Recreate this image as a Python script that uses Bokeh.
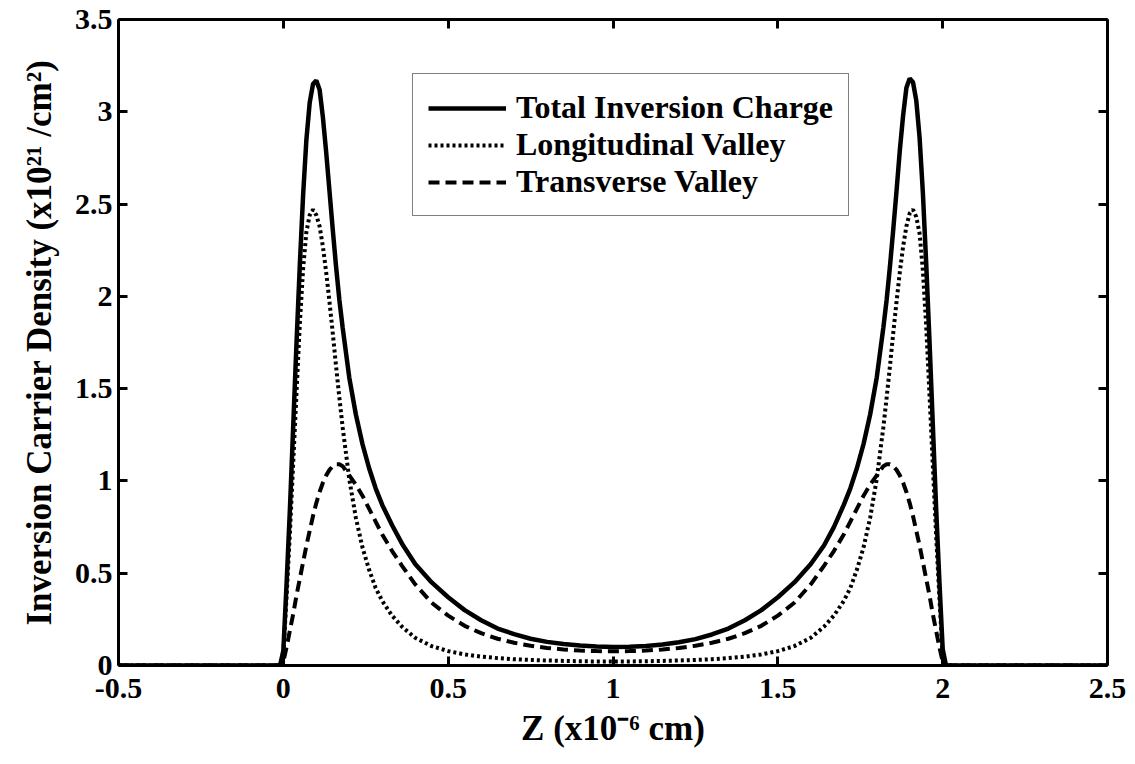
from bokeh.plotting import figure
from bokeh.models import (LinearAxis, Range1d, FixedTicker, Legend, LegendItem,
                          CustomJSTickFormatter, ColumnDataSource)
from bokeh.embed import file_html
from bokeh.resources import INLINE

# Position along the channel, Z (x1e-6 cm)
z = [-0.5, -0.01, 0.0, 0.01, 0.02, 0.03, 0.04, 0.05, 0.06, 0.07, 0.08, 0.09,
     0.10, 0.11, 0.12, 0.13, 0.14, 0.15, 0.16, 0.17, 0.18, 0.20, 0.22, 0.24,
     0.26, 0.28, 0.30, 0.33, 0.36, 0.40, 0.45, 0.50, 0.55, 0.60, 0.65, 0.70,
     0.75, 0.80, 0.85, 0.90, 0.95, 1.00,
     1.05, 1.10, 1.15, 1.20, 1.25, 1.30, 1.35, 1.40, 1.45, 1.50, 1.55, 1.60,
     1.64, 1.67, 1.70, 1.72, 1.74, 1.76, 1.78, 1.80, 1.82, 1.83, 1.84, 1.85,
     1.86, 1.87, 1.88, 1.89, 1.90, 1.91, 1.92, 1.93, 1.94, 1.95, 1.96, 1.97,
     1.98, 1.99, 2.00, 2.01, 2.5]

# Total inversion charge (x1e21 /cm^2)
total = [0.0, 0.0, 0.08, 0.45, 0.85, 1.30, 1.75, 2.17, 2.55, 2.85, 3.05, 3.15,
         3.17, 3.12, 2.97, 2.78, 2.57, 2.36, 2.16, 1.98, 1.83, 1.56, 1.36, 1.20,
         1.07, 0.96, 0.87, 0.76, 0.66, 0.55, 0.45, 0.37, 0.30, 0.245, 0.20, 0.17,
         0.145, 0.128, 0.116, 0.108, 0.103, 0.10,
         0.102, 0.106, 0.114, 0.126, 0.143, 0.168, 0.20, 0.245, 0.30, 0.37, 0.45, 0.55,
         0.65, 0.75, 0.87, 0.96, 1.07, 1.20, 1.36, 1.56, 1.83, 1.98, 2.16, 2.36,
         2.57, 2.79, 2.98, 3.13, 3.18, 3.16, 3.06, 2.86, 2.56, 2.18, 1.76, 1.31,
         0.86, 0.46, 0.09, 0.0, 0.0]

# Longitudinal valley contribution
longitudinal = [0.0, 0.0, 0.06, 0.38, 0.72, 1.10, 1.48, 1.85, 2.15, 2.35, 2.44, 2.47,
                2.44, 2.38, 2.27, 2.13, 1.97, 1.80, 1.62, 1.45, 1.29, 1.01, 0.80, 0.64,
                0.52, 0.42, 0.35, 0.27, 0.21, 0.15, 0.105, 0.078, 0.06, 0.048, 0.04, 0.034,
                0.03, 0.027, 0.025, 0.023, 0.022, 0.022,
                0.022, 0.023, 0.025, 0.027, 0.03, 0.034, 0.04, 0.048, 0.06, 0.078, 0.105, 0.15,
                0.21, 0.27, 0.35, 0.42, 0.52, 0.64, 0.80, 1.01, 1.29, 1.45, 1.62, 1.80,
                1.97, 2.13, 2.27, 2.38, 2.45, 2.47, 2.43, 2.34, 2.14, 1.84, 1.47, 1.09,
                0.71, 0.37, 0.05, 0.0, 0.0]

# Transverse valley contribution
transverse = [0.0, 0.0, 0.02, 0.10, 0.19, 0.28, 0.38, 0.47, 0.56, 0.65, 0.73, 0.81,
              0.88, 0.94, 0.99, 1.03, 1.06, 1.08, 1.09, 1.09, 1.08, 1.03, 0.98, 0.92,
              0.85, 0.78, 0.71, 0.62, 0.54, 0.44, 0.34, 0.27, 0.215, 0.175, 0.145, 0.123,
              0.107, 0.095, 0.087, 0.081, 0.078, 0.077,
              0.078, 0.081, 0.087, 0.095, 0.107, 0.123, 0.145, 0.175, 0.215, 0.27, 0.34, 0.44,
              0.54, 0.62, 0.71, 0.78, 0.85, 0.92, 0.98, 1.03, 1.08, 1.09, 1.09, 1.08,
              1.06, 1.03, 0.99, 0.94, 0.88, 0.81, 0.73, 0.65, 0.56, 0.47, 0.38, 0.28,
              0.19, 0.10, 0.02, 0.0, 0.0]

x_ticks = [-0.5, 0, 0.5, 1, 1.5, 2, 2.5]
y_ticks = [0, 0.5, 1, 1.5, 2, 2.5, 3, 3.5]

FONT = "Liberation Serif"

src = ColumnDataSource(dict(z=z, total=total, longitudinal=longitudinal,
                            transverse=transverse))

p = figure(width=1135, height=764, output_backend="svg", toolbar_location=None,
           x_range=Range1d(-0.5, 2.5), y_range=Range1d(0, 3.5),
           min_border_left=118, min_border_right=28, min_border_top=19,
           min_border_bottom=99, background_fill_color="white",
           border_fill_color="white")
p.grid.visible = False
p.outline_line_color = None

r_total = p.line("z", "total", source=src, line_color="black", line_width=4.5)
r_long = p.line("z", "longitudinal", source=src, line_color="black",
                line_width=4, line_dash="3 3")
r_trans = p.line("z", "transverse", source=src, line_color="black",
                 line_width=4, line_dash="11 6")

label_fmt = CustomJSTickFormatter(code="return tick.toString();")
blank_fmt = CustomJSTickFormatter(code="return '';")


def style_axis(ax, labelled):
    ax.axis_line_width = 3
    ax.axis_line_color = "black"
    ax.major_tick_in = 9
    ax.major_tick_out = 0
    ax.major_tick_line_width = 3
    ax.major_tick_line_color = "black"
    ax.minor_tick_line_color = None
    if labelled:
        ax.formatter = label_fmt
        ax.major_label_text_font = FONT
        ax.major_label_text_font_style = "bold"
        ax.major_label_text_font_size = "30px"
        ax.major_label_text_color = "black"
        ax.axis_label_text_font = FONT
        ax.axis_label_text_font_style = "bold"
        ax.axis_label_text_font_size = "35px"
        ax.axis_label_text_color = "black"
    else:
        ax.formatter = blank_fmt


xa = p.xaxis[0]
xa.ticker = FixedTicker(ticks=x_ticks)
style_axis(xa, True)
xa.major_label_standoff = 13
xa.axis_label = "Z (x10\u207b\u2076 cm)"
xa.axis_label_standoff = 8

ya = p.yaxis[0]
ya.ticker = FixedTicker(ticks=y_ticks)
style_axis(ya, True)
ya.major_label_standoff = 6
ya.axis_label = "Inversion Carrier Density (x10\u00b2\u00b9 /cm\u00b2)"
ya.axis_label_standoff = 13

top = LinearAxis(ticker=FixedTicker(ticks=x_ticks))
style_axis(top, False)
p.add_layout(top, "above")

right = LinearAxis(ticker=FixedTicker(ticks=y_ticks))
style_axis(right, False)
p.add_layout(right, "right")

legend = Legend(items=[
    LegendItem(label="Total Inversion Charge", renderers=[r_total]),
    LegendItem(label="Longitudinal Valley", renderers=[r_long]),
    LegendItem(label="Transverse Valley", renderers=[r_trans]),
], location=(294, 449))
legend.label_text_font = FONT
legend.label_text_font_style = "bold"
legend.label_text_font_size = "32px"
legend.label_text_color = "black"
legend.glyph_width = 78
legend.glyph_height = 26
legend.label_height = 26
legend.label_standoff = 10
legend.spacing = 0
legend.padding = 15
legend.margin = 0
legend.border_line_color = "black"
legend.border_line_width = 1.5
legend.background_fill_color = "white"
legend.background_fill_alpha = 1
p.add_layout(legend)

open("out.html", "w").write(file_html(p, INLINE))
